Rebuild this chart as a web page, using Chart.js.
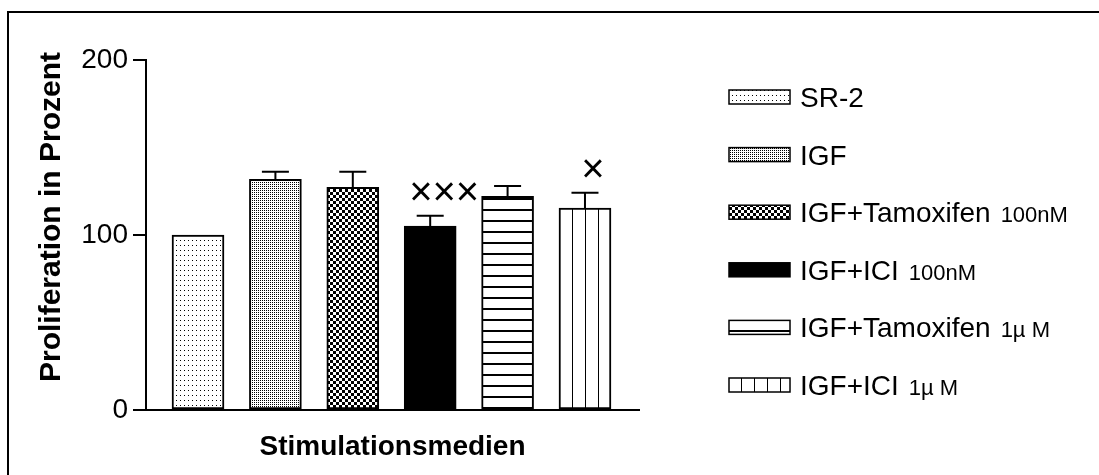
<!DOCTYPE html>
<html>
<head>
<meta charset="utf-8">
<script src="https://cdn.jsdelivr.net/npm/chart.js@4"></script>
<style>
html,body{margin:0;padding:0;background:#fff;}
#wrap{width:1099px;height:475px;position:relative;}
</style>
</head>
<body>
<div id="wrap"><canvas id="c" width="1099" height="475"></canvas></div>
<script>
// ---- data ----
const categories = ['SR-2', 'IGF', 'IGF+Tamoxifen 100nM', 'IGF+ICI 100nM', 'IGF+Tamoxifen 1µM', 'IGF+ICI 1µM'];
const legendMain = ['SR-2', 'IGF', 'IGF+Tamoxifen', 'IGF+ICI', 'IGF+Tamoxifen', 'IGF+ICI'];
const legendSub = ['', '', '100nM', '100nM', '1µ M', '1µ M'];
const values = [100, 131.8, 127.2, 105.1, 122.1, 115.4];
const errors = [0, 4.4, 9.0, 5.9, 5.9, 8.8];
const marks = ['', '', '', '×××', '', '×'];
const yTicks = [0, 100, 200];
const yTitle = 'Proliferation in Prozent';
const xTitle = 'Stimulationsmedien';

const FONT = '"Liberation Sans", Arial, Helvetica, sans-serif';

// ---- patterns ----
function makePattern(w, h, draw) {
  const c = document.createElement('canvas');
  c.width = w; c.height = h;
  const g = c.getContext('2d');
  g.fillStyle = '#fff'; g.fillRect(0, 0, w, h);
  g.fillStyle = '#000';
  draw(g);
  return document.createElement('canvas').getContext('2d').createPattern(c, 'repeat');
}
const patterns = [
  makePattern(4, 5, g => { g.fillRect(0, 0, 1, 1); }),
  makePattern(2, 2, g => { g.fillRect(0, 0, 1, 1); }),
  makePattern(6, 6, g => { g.fillRect(0, 0, 3, 3); g.fillRect(3, 3, 3, 3); }),
  '#000',
  makePattern(1, 11, g => { g.fillRect(0, 0, 1, 2); }),
  makePattern(13, 1, g => { g.fillRect(0, 0, 1, 1); })
];

const frame = {
  id: 'frame',
  beforeDraw(chart) {
    const ctx = chart.ctx;
    ctx.save();
    ctx.fillStyle = '#fff';
    ctx.fillRect(0, 0, chart.width, chart.height);
    ctx.strokeStyle = '#000';
    ctx.lineWidth = 2;
    ctx.strokeRect(8, 12, 1300, 800);
    ctx.restore();
  },
  afterDraw(chart) {
    const ctx = chart.ctx;
    const xs = chart.scales.x, ys = chart.scales.y;
    const ca = chart.chartArea;
    ctx.save();
    // error bars
    ctx.strokeStyle = '#000';
    ctx.lineWidth = 2;
    values.forEach((v, i) => {
      if (!errors[i]) return;
      const x = xs.getPixelForValue(i);
      const y0 = ys.getPixelForValue(v);
      const y1 = ys.getPixelForValue(v + errors[i]);
      ctx.beginPath();
      ctx.moveTo(x, y0); ctx.lineTo(x, y1);
      ctx.moveTo(x - 13.5, y1); ctx.lineTo(x + 13.5, y1);
      ctx.stroke();
    });
    // significance marks
    ctx.fillStyle = '#000';
    ctx.font = '40px ' + FONT;
    ctx.textAlign = 'center';
    ctx.textBaseline = 'middle';
    marks.forEach((m, i) => {
      if (!m) return;
      const x = xs.getPixelForValue(i) + (m.length > 1 ? 14 : 8);
      const y = ys.getPixelForValue(values[i] + errors[i]) - 22;
      ctx.fillText(m, x, y);
    });
    // axis titles
    ctx.font = 'bold 28px ' + FONT;
    ctx.textBaseline = 'middle';
    ctx.fillText(xTitle, (ca.left + ca.right) / 2, 447);
    ctx.save();
    ctx.translate(52, 217);
    ctx.rotate(-Math.PI / 2);
    ctx.font = 'bold 30px ' + FONT;
    ctx.fillText(yTitle, 0, 0);
    ctx.restore();
    // legend
    const rowY0 = 97, rowStep = 57.6;
    legendMain.forEach((t, i) => {
      const cy = rowY0 + i * rowStep;
      ctx.fillStyle = patterns[i];
      ctx.fillRect(729, cy - 7, 61, 14);
      ctx.strokeStyle = '#000';
      ctx.lineWidth = 1.5;
      ctx.strokeRect(729, cy - 7, 61, 14);
      ctx.fillStyle = '#000';
      ctx.textAlign = 'left';
      ctx.textBaseline = 'alphabetic';
      ctx.font = '28px ' + FONT;
      const base = cy + 10;
      ctx.fillText(t, 800, base);
      if (legendSub[i]) {
        const w = ctx.measureText(t).width;
        ctx.font = '22px ' + FONT;
        ctx.fillText(legendSub[i], 800 + w + 10, base);
      }
    });
    ctx.restore();
  }
};

new Chart(document.getElementById('c'), {
  type: 'bar',
  data: {
    labels: categories,
    datasets: [{
      data: values.map((v, i) => ({ x: i, y: v })),
      backgroundColor: patterns,
      borderColor: '#000',
      borderWidth: 2,
      borderSkipped: false,
      barThickness: 52
    }]
  },
  options: {
    responsive: false,
    animation: false,
    events: [],
    layout: { padding: { left: 0, right: 460, top: 60, bottom: 65 } },
    plugins: { legend: { display: false }, tooltip: { enabled: false } },
    scales: {
      x: {
        type: 'linear',
        offset: false,
        min: -0.672, max: 5.698,
        ticks: { display: false },
        grid: { display: true, offset: false, drawOnChartArea: false, drawTicks: false },
        border: { display: true, color: '#000', width: 2 },
        afterFit(s) { s.height = 0; }
      },
      y: {
        min: 0, max: 200,
        afterBuildTicks(s) { s.ticks = yTicks.map(v => ({ value: v })); },
        ticks: {
          color: '#000',
          padding: 5,
          font: { family: FONT, size: 28 },
          callback: v => String(v)
        },
        grid: { display: true, drawOnChartArea: false, tickLength: 13, tickColor: '#000', tickWidth: 2, lineWidth: 2 },
        border: { display: true, color: '#000', width: 2 },
        afterFit(s) { s.width = 146; }
      }
    }
  },
  plugins: [frame]
});
</script>
</body>
</html>
